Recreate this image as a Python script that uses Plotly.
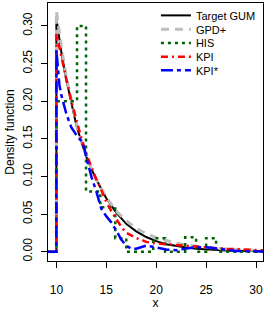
import plotly.graph_objects as go

# ---- data ----
# Target GUM density
gum_x = [9.0, 10.0, 10.0, 10.5, 11.0, 11.5, 12.0, 12.5, 13.0, 13.5, 14.0, 15.0, 16.0, 17.0, 18.0,
         19.0, 20.0, 21.0, 22.0, 23.0, 24.0, 25.0, 26.0, 27.0, 28.0, 29.0, 30.0, 31.0]
gum_y = [0.0, 0.0, 0.310, 0.265, 0.228, 0.196, 0.168, 0.146, 0.126, 0.110, 0.096, 0.071, 0.052, 0.037,
         0.027, 0.0195, 0.014, 0.010, 0.0075, 0.0055, 0.004, 0.003, 0.0022, 0.0016, 0.0012, 0.0009,
         0.0007, 0.0005]

# GPD+ density
gpd_x = [9.0, 10.0, 10.0, 10.5, 11.0, 11.5, 12.0, 12.5, 13.0, 13.5, 14.0, 15.0, 16.0, 17.0, 18.0,
         19.0, 20.0, 21.0, 22.0, 23.0, 24.0, 25.0, 26.0, 27.0, 28.0, 29.0, 30.0, 31.0]
gpd_y = [0.0, 0.0, 0.320, 0.272, 0.232, 0.199, 0.171, 0.147, 0.127, 0.110, 0.096, 0.072, 0.054, 0.041,
         0.031, 0.024, 0.0185, 0.0145, 0.0113, 0.0088, 0.007, 0.0055, 0.0043, 0.0034, 0.0027,
         0.0021, 0.0017, 0.0014]

# HIS histogram (bin edges and heights)
his_edges = [9.0, 10.0, 12.07, 12.97, 14.4, 15.9, 17.0, 19.7, 20.9, 22.9, 24.0, 25.0, 26.0, 31.0]
his_heights = [0.0, 0.200, 0.300, 0.080, 0.059, 0.018, 0.0, 0.018, 0.0, 0.019, 0.0, 0.018, 0.0, 0.0]

# KPI density
kpi_x = [9.0, 10.0, 10.0, 10.5, 11.0, 11.5, 12.0, 12.5, 13.0, 13.5, 14.0, 14.5, 15.0, 15.5, 16.0,
         16.5, 17.0, 17.5, 18.0, 18.5, 19.0, 20.0, 21.0, 22.0, 23.0, 24.0, 25.0, 26.0, 27.0, 28.0,
         29.0, 30.0, 31.0]
kpi_y = [0.0, 0.0, 0.290, 0.258, 0.229, 0.200, 0.174, 0.151, 0.130, 0.112, 0.096, 0.082, 0.066,
         0.054, 0.043, 0.033, 0.025, 0.021, 0.018, 0.016, 0.013, 0.011, 0.010, 0.009, 0.007, 0.006,
         0.005, 0.004, 0.0037, 0.0035, 0.003, 0.002, 0.0015]

# KPI* density
kpis_x = [9.0, 10.0, 10.0, 10.15, 10.3, 10.5, 11.0, 11.5, 12.0, 12.5, 12.8, 13.0, 13.5, 14.0, 14.5,
          15.0, 15.5, 16.0, 16.5, 17.0, 17.5, 18.0, 18.5, 19.0, 19.5, 20.0, 20.5, 21.0, 22.0, 23.0,
          24.0, 25.0, 26.0, 27.0, 28.0, 29.0, 31.0]
kpis_y = [0.0, 0.0, 0.268, 0.245, 0.222, 0.208, 0.183, 0.165, 0.155, 0.147, 0.138, 0.125, 0.100,
          0.080, 0.057, 0.047, 0.039, 0.028, 0.016, 0.008, 0.004, 0.004, 0.006, 0.008, 0.007, 0.006,
          0.005, 0.003, 0.002, 0.004, 0.006, 0.006, 0.004, 0.002, 0.001, 0.0005, 0.0003]

series_names = ["Target GUM", "GPD+", "HIS", "KPI", "KPI*"]
y_ticks = [0.00, 0.05, 0.10, 0.15, 0.20, 0.25, 0.30]
x_ticks = [10, 15, 20, 25, 30]

# ---- figure ----
fig = go.Figure()
fig.add_trace(go.Scatter(x=gum_x, y=gum_y, mode="lines", name=series_names[0],
                         line=dict(color="black", width=2), legend="legend"))
fig.add_trace(go.Scatter(x=gpd_x, y=gpd_y, mode="lines", name=series_names[1],
                         line=dict(color="#BEBEBE", width=3, dash="8px,6px"), legend="legend2"))
fig.add_trace(go.Scatter(x=his_edges, y=his_heights, mode="lines", name=series_names[2],
                         line=dict(color="#006400", width=2.5, dash="3px,4px", shape="hv"),
                         legend="legend3"))
fig.add_trace(go.Scatter(x=kpi_x, y=kpi_y, mode="lines", name=series_names[3],
                         line=dict(color="#FF0000", width=2.5, dash="7px,4px,2px,4px"),
                         legend="legend4"))
fig.add_trace(go.Scatter(x=kpis_x, y=kpis_y, mode="lines", name=series_names[4],
                         line=dict(color="#0000FF", width=2.5, dash="12px,4px,4px,4px"),
                         legend="legend5"))

font_family = "Liberation Sans, Arial, sans-serif"
leg_common = dict(x=0.502, xanchor="left", yanchor="middle", bgcolor="rgba(0,0,0,0)",
                  borderwidth=0, font=dict(size=11, color="black", family=font_family))
row_y = [0.952, 0.898, 0.845, 0.792, 0.739]

fig.update_layout(
    width=266, height=310,
    margin=dict(l=48, r=3, t=3, b=49, autoexpand=False),
    paper_bgcolor="white", plot_bgcolor="white",
    font=dict(family=font_family, size=12, color="black"),
    showlegend=True,
    legend=dict(y=row_y[0], **leg_common),
    legend2=dict(y=row_y[1], **leg_common),
    legend3=dict(y=row_y[2], **leg_common),
    legend4=dict(y=row_y[3], **leg_common),
    legend5=dict(y=row_y[4], **leg_common),
    xaxis=dict(range=[9.16, 30.7], tickvals=x_ticks, ticktext=[str(v) for v in x_ticks],
               automargin=False, ticklabelstandoff=12,
               showgrid=False, zeroline=False, showline=True, mirror=True,
               linecolor="black", linewidth=1, ticks="outside", ticklen=6,
               tickcolor="black", tickfont=dict(size=12),
               title=dict(text="x", font=dict(size=12), standoff=5)),
    yaxis=dict(range=[-0.0124, 0.3305], tickvals=y_ticks,
               ticktext=["%.2f" % v for v in y_ticks], tickangle=-90,
               automargin=False, ticklabelstandoff=4,
               showgrid=False, zeroline=False, showline=True, mirror=True,
               linecolor="black", linewidth=1, ticks="outside", ticklen=6,
               tickcolor="black", tickfont=dict(size=12),
               title=dict(text="Density function", font=dict(size=12), standoff=4)),
)

fig.write_html("out.html", config={"displayModeBar": False},
               post_script="document.body.style.margin='0px';document.body.style.padding='0px';")
